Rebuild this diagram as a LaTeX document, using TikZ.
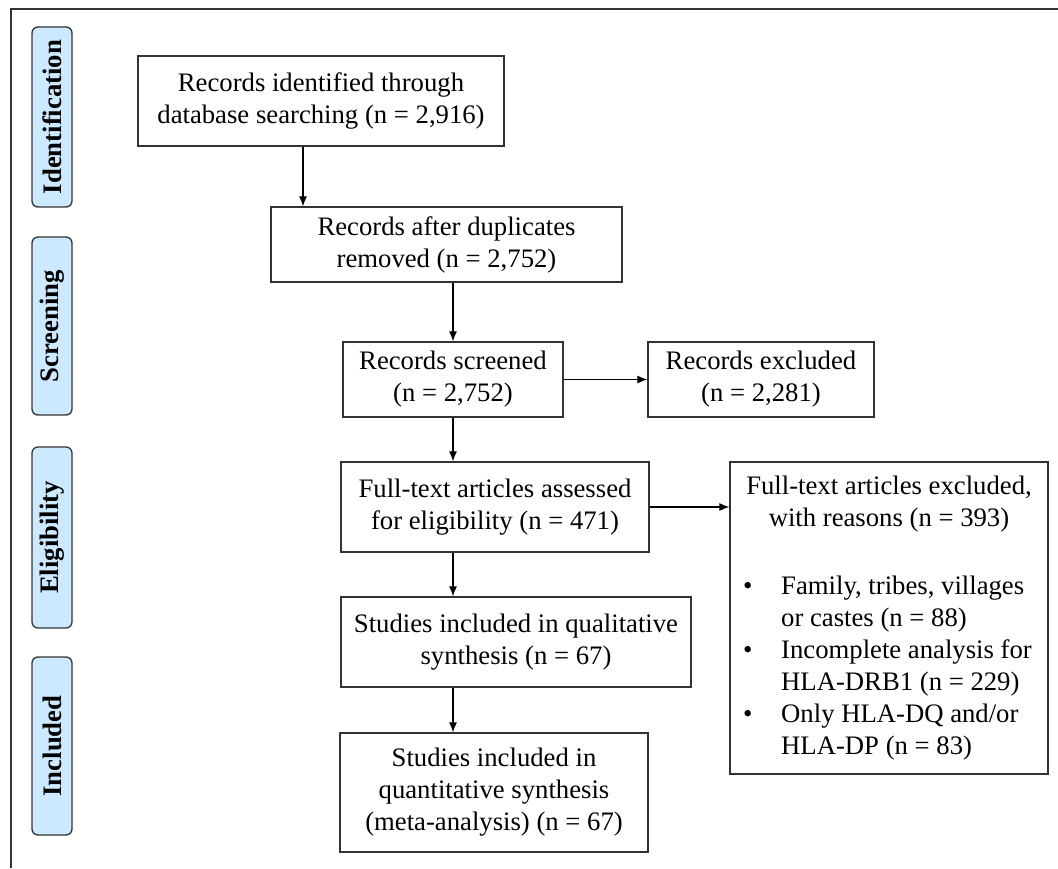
\documentclass[tikz,border=0pt]{standalone}
\usepackage{fontspec}
\setmainfont{Liberation Serif}
\usetikzlibrary{arrows.meta}
\definecolor{phasefill}{HTML}{CCE9FF}
\definecolor{linegray}{HTML}{333333}
\begin{document}
\begin{tikzpicture}[x=1pt,y=-1pt,
  every node/.style={font=\fontsize{26.7}{32}\selectfont, inner sep=0pt},
  flowbox/.style={draw=linegray, line width=1.3pt, align=center},
  phasebox/.style={draw=linegray, fill=phasefill, line width=1.3pt, rounded corners=6pt,
    minimum width=40, rotate=90, font=\fontsize{26.7}{32}\selectfont\bfseries},
  arr/.style={draw=black, line width=1.1pt, -{Latex[length=10pt,width=8pt]}}]
\useasboundingbox (0,0) rectangle (1058,868);
% outer frame
\draw[linegray, line width=1.3pt] (11,868) -- (11,9) -- (1058,9);
% phase labels
\node[phasebox, minimum height=40, minimum width=180] (pid) at (52,117) {Identification};
\node[phasebox, minimum height=40, minimum width=178] (psc) at (52,326) {Screening};
\node[phasebox, minimum height=40, minimum width=181] (pel) at (52,537.5) {Eligibility};
\node[phasebox, minimum height=40, minimum width=178] (pin) at (52,746) {Included};
% boxes
\node[flowbox, minimum width=366, minimum height=90] (b1) at (321,101)
  {Records identified through\\database searching (n = 2,916)};
\node[flowbox, minimum width=351, minimum height=75] (b2) at (446.5,244.5)
  {Records after duplicates\\removed (n = 2,752)};
\node[flowbox, minimum width=220, minimum height=75] (b3) at (453,379.5)
  {Records screened\\(n = 2,752)};
\node[flowbox, minimum width=226, minimum height=75] (e1) at (761,379.5)
  {Records excluded\\(n = 2,281)};
\node[flowbox, minimum width=308, minimum height=90] (b4) at (495,507)
  {Full-text articles assessed\\for eligibility (n = 471)};
\node[flowbox, minimum width=318, minimum height=312] (e2) at (889,618) {};
\node[anchor=north, align=center] (e2head) at (889,476)
  {Full-text articles excluded,\\with reasons (n = 393)};
\node[anchor=north west, align=left] (e2list) at (743,572)
  {\begin{tabular}{@{}l@{}l@{}}
   \makebox[38pt][l]{\textbullet} & Family, tribes, villages\\
   & or castes (n = 88)\\
   \makebox[38pt][l]{\textbullet} & Incomplete analysis for\\
   & HLA-DRB1 (n = 229)\\
   \makebox[38pt][l]{\textbullet} & Only HLA-DQ and/or\\
   & HLA-DP (n = 83)
   \end{tabular}};
\node[flowbox, minimum width=350, minimum height=90] (b5) at (516,642)
  {Studies included in qualitative\\synthesis (n = 67)};
\node[flowbox, minimum width=308, minimum height=119] (b6) at (494,792.5)
  {Studies included in\\quantitative synthesis\\(meta-analysis) (n = 67)};
% connectors
\coordinate (c1) at (303,0);
\coordinate (c2) at (453,0);
\draw[arr] (b1.south -| c1) -- (b2.north -| c1);
\draw[arr] (b2.south -| c2) -- (b3.north -| c2);
\draw[arr] (b3.south -| c2) -- (b4.north -| c2);
\draw[arr] (b4.south -| c2) -- (b5.north -| c2);
\draw[arr] (b5.south -| c2) -- (b6.north -| c2);
\draw[arr] (b3.east) -- (e1.west);
\draw[arr] (b4.east) -- (e2.west |- b4.east);
\end{tikzpicture}
\end{document}
